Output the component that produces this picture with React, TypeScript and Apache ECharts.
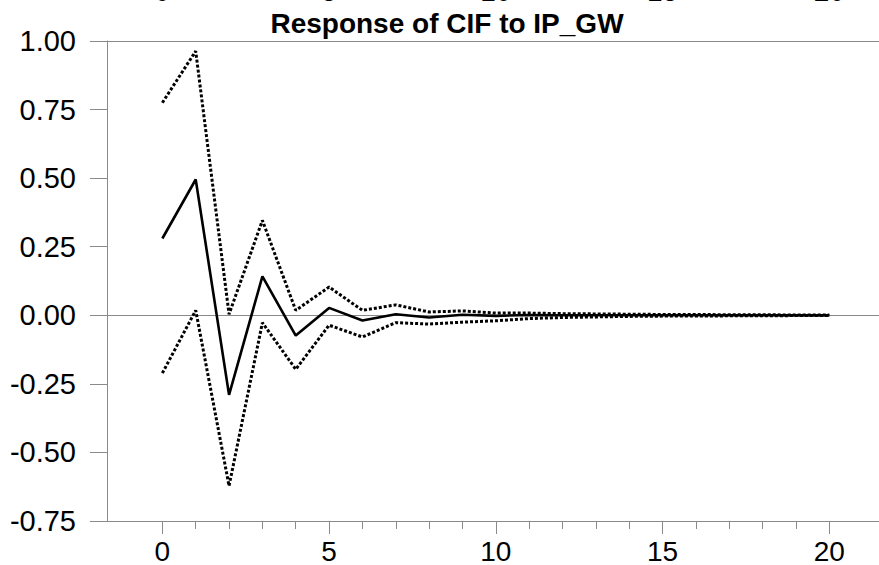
import React, { useEffect, useRef } from "react";
import * as echarts from "echarts";

const periods = [0, 1, 2, 3, 4, 5, 6, 7, 8, 9, 10, 11, 12, 13, 14, 15, 16, 17, 18, 19, 20];
const response = [0.28, 0.495, -0.29, 0.142, -0.074, 0.027, -0.019, 0.004, -0.008, 0.002, -0.002, 0.001, 0.0, 0.0, 0.0, 0.0, 0.0, 0.0, 0.0, 0.0, 0.0];
const upperBand = [0.775, 0.963, 0.004, 0.346, 0.018, 0.103, 0.018, 0.038, 0.012, 0.016, 0.008, 0.008, 0.006, 0.005, 0.004, 0.003, 0.003, 0.002, 0.002, 0.001, 0.001];
const lowerBand = [-0.211, 0.018, -0.622, -0.027, -0.197, -0.036, -0.079, -0.027, -0.032, -0.025, -0.02, -0.012, -0.008, -0.006, -0.004, -0.003, -0.003, -0.002, -0.002, -0.001, -0.001];
const majorXTicks = [0, 5, 10, 15, 20];
const minorXTicks = [1, 2, 3, 4, 6, 7, 8, 9, 11, 12, 13, 14, 16, 17, 18, 19];
const strayTopLabels = ["0", "5", "10", "15", "20"];
const titleText = "Response of CIF to IP_GW";
const yMin = -0.75;
const yMax = 1.0;

export default function App() {
  const ref = useRef<HTMLDivElement>(null);

  useEffect(() => {
    if (!ref.current) return;
    document.body.style.margin = "0";
    document.body.style.overflow = "hidden";
    const chart = echarts.init(ref.current, null, { renderer: "svg" });
    const font = "'Liberation Sans', Arial, sans-serif";
    const axisGray = "#8a8a8a";
    const xMin = -1.66;
    const xMax = 21.49;
    const gridBase = { left: 107, top: 41, right: 0, bottom: 44, containLabel: false };

    const toPairs = (vals: number[]) => periods.map((p, i) => [p, vals[i]]);

    chart.setOption({
      animation: false,
      backgroundColor: "#ffffff",
      title: {
        text: titleText,
        left: 447,
        top: 9,
        textAlign: "center",
        padding: 0,
        textStyle: { fontFamily: font, fontSize: 28, fontWeight: "bold", color: "#000" },
      },
      grid: [
        { ...gridBase, show: false },
        { ...gridBase, show: false },
      ],
      xAxis: [
        {
          type: "value",
          gridIndex: 0,
          min: xMin,
          max: xMax,
          axisLine: { show: true, onZero: false, lineStyle: { color: axisGray, width: 1 } },
          splitLine: { show: false },
          axisTick: { show: true, customValues: majorXTicks, length: 13, lineStyle: { color: axisGray } },
          axisLabel: {
            show: true,
            customValues: majorXTicks,
            margin: 16,
            fontFamily: font,
            fontSize: 28,
            color: "#000",
          },
        },
        {
          type: "value",
          gridIndex: 1,
          min: xMin,
          max: xMax,
          axisLine: { show: false, onZero: false },
          splitLine: { show: false },
          axisTick: { show: true, customValues: minorXTicks, length: 8, lineStyle: { color: axisGray } },
          axisLabel: { show: false },
        },
      ],
      yAxis: [
        {
          type: "value",
          gridIndex: 0,
          min: yMin,
          max: yMax,
          interval: 0.25,
          axisLine: { show: true, onZero: false, lineStyle: { color: axisGray, width: 1 } },
          axisTick: { show: true, length: 17, lineStyle: { color: axisGray } },
          splitLine: { show: false },
          axisLabel: {
            margin: 31,
            formatter: (v: number) => v.toFixed(2),
            fontFamily: font,
            fontSize: 29,
            color: "#000",
          },
        },
        { type: "value", gridIndex: 1, min: yMin, max: yMax, show: false },
      ],
      series: [
        {
          name: "Response",
          type: "line",
          xAxisIndex: 0,
          yAxisIndex: 0,
          data: toPairs(response),
          symbol: "none",
          lineStyle: { color: "#000", width: 2.6 },
          z: 3,
          markLine: {
            silent: true,
            symbol: ["none", "none"],
            label: { show: false },
            lineStyle: { color: axisGray, type: "solid", width: 1 },
            data: [{ yAxis: 0 }, { yAxis: yMax }],
            z: 1,
          },
        },
        {
          name: "Upper",
          type: "line",
          xAxisIndex: 0,
          yAxisIndex: 0,
          data: toPairs(upperBand),
          symbol: "none",
          lineStyle: { color: "#000", width: 3, type: [3, 2] },
          z: 2,
        },
        {
          name: "Lower",
          type: "line",
          xAxisIndex: 0,
          yAxisIndex: 0,
          data: toPairs(lowerBand),
          symbol: "none",
          lineStyle: { color: "#000", width: 3, type: [3, 2] },
          z: 2,
        },
      ],
    });

    const stray = strayTopLabels.map((t) => {
      const x = chart.convertToPixel({ xAxisIndex: 0 }, Number(t)) as number;
      return {
        type: "text",
        x,
        y: 5,
        silent: true,
        style: {
          text: t,
          fontFamily: font,
          fontSize: 28,
          fill: "#000",
          align: "center",
          verticalAlign: "bottom",
        },
      };
    });
    chart.setOption({ graphic: stray });

    return () => {
      chart.dispose();
    };
  }, []);

  return (
    <div
      ref={ref}
      style={{ position: "absolute", left: 0, top: 0, width: 879, height: 565 }}
    />
  );
}
